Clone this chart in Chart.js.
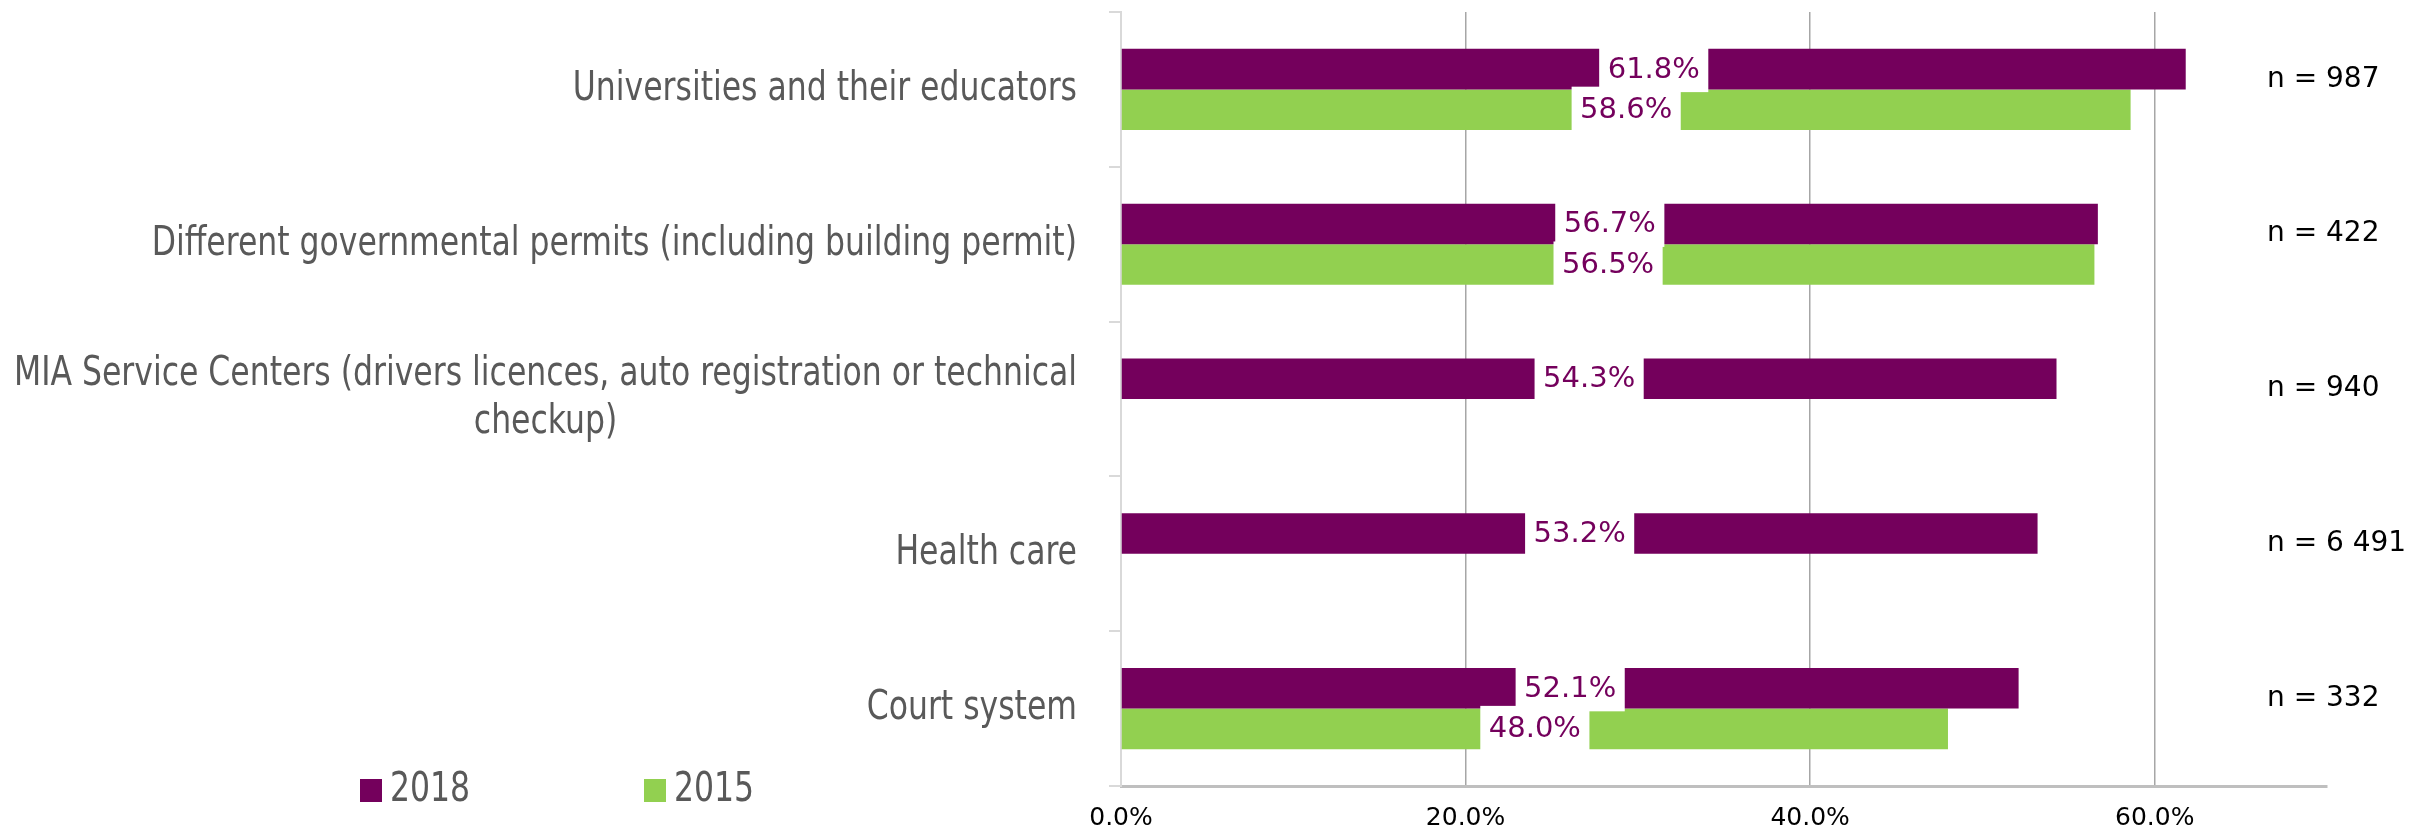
<!DOCTYPE html>
<html>
<head>
<meta charset="utf-8">
<script src="https://cdn.jsdelivr.net/npm/chart.js@4.4.0/dist/chart.umd.min.js"></script>
<style>
  html, body { margin: 0; padding: 0; background: #fff; }
  #wrap { width: 2433px; height: 836px; }
</style>
</head>
<body>
<div id="wrap"><canvas id="chart" width="2433" height="836"></canvas></div>
<script>
const categories = [
  'Universities and their educators',
  'Different governmental permits (including building permit)',
  ['MIA Service Centers (drivers licences, auto registration or technical', 'checkup)'],
  'Health care',
  'Court system'
];
const values2018 = [61.8, 56.7, 54.3, 53.2, 52.1];
const values2015 = [58.6, 56.5, null, null, 48.0];
const sampleSizes = ['n = 987', 'n = 422', 'n = 940', 'n = 6 491', 'n = 332'];
const seriesNames = ['2018', '2015'];

const PURPLE = '#74005c';
const GREEN = '#92d050';
const GREY_TEXT = '#595959';
const NARROW = '"DejaVu Sans Condensed", "DejaVu Sans", sans-serif';
const WIDE = '"DejaVu Sans", "Liberation Sans", sans-serif';
const SQUEEZE = 0.875; // no narrow font installed, so squeeze the condensed one a bit

function narrowText(ctx, txt, x, y) {
  ctx.save();
  ctx.translate(x, y);
  ctx.scale(SQUEEZE, 1);
  ctx.fillText(txt, 0, 0);
  ctx.restore();
}

// category names drawn by hand so the wrapped line can be centred under the first
const categoryLabels = {
  id: 'categoryLabels',
  afterDraw(chart) {
    const ctx = chart.ctx;
    const y = chart.scales.y;
    const right = y.right - 44;
    ctx.save();
    ctx.font = '40px ' + NARROW;
    ctx.fillStyle = GREY_TEXT;
    ctx.textAlign = 'center';
    ctx.textBaseline = 'middle';
    categories.forEach((label, i) => {
      const lines = Array.isArray(label) ? label : [label];
      const w = Math.max(...lines.map(l => ctx.measureText(l).width)) * SQUEEZE;
      const cy = y.getPixelForValue(i);
      const lh = 48;
      lines.forEach((l, k) => {
        narrowText(ctx, l, right - w / 2, cy + (k - (lines.length - 1) / 2) * lh);
      });
    });
    ctx.restore();
  }
};

// value labels on a white box in the middle of each bar
const valueLabels = {
  id: 'valueLabels',
  afterDatasetsDraw(chart) {
    const ctx = chart.ctx;
    ctx.save();
    ctx.font = '29px ' + WIDE;
    ctx.textAlign = 'center';
    ctx.textBaseline = 'middle';
    chart.data.datasets.forEach((ds, di) => {
      const meta = chart.getDatasetMeta(di);
      meta.data.forEach((bar, i) => {
        const v = ds.data[i];
        if (v === null || v === undefined) return;
        const txt = v.toFixed(1) + '%';
        const cx = (bar.x + bar.base) / 2;
        const w = ctx.measureText(txt).width + 17;
        ctx.fillStyle = '#fff';
        ctx.fillRect(cx - w / 2, bar.y - 23, w, 46);
        ctx.fillStyle = PURPLE;
        ctx.fillText(txt, cx, bar.y + 1);
      });
    });
    ctx.restore();
  }
};

// n = ... notes on the right and the legend bottom left
const extras = {
  id: 'extras',
  afterDraw(chart) {
    const ctx = chart.ctx;
    const y = chart.scales.y;
    ctx.save();
    ctx.font = '28px ' + WIDE;
    ctx.fillStyle = '#000';
    ctx.textAlign = 'left';
    ctx.textBaseline = 'middle';
    sampleSizes.forEach((s, i) => {
      ctx.fillText(s, chart.chartArea.right - 60, y.getPixelForValue(i) - 10);
    });

    ctx.font = '40px ' + NARROW;
    const legendX = [360, 644];
    chart.data.datasets.forEach((ds, i) => {
      ctx.fillStyle = ds.backgroundColor;
      ctx.fillRect(legendX[i], 779, 22, 23);
      ctx.fillStyle = GREY_TEXT;
      narrowText(ctx, ds.label, legendX[i] + 30, 791);
    });
    ctx.restore();
  }
};

new Chart(document.getElementById('chart'), {
  type: 'bar',
  data: {
    labels: categories,
    datasets: [
      { label: seriesNames[0], data: values2018, backgroundColor: PURPLE },
      { label: seriesNames[1], data: values2015, backgroundColor: GREEN }
    ]
  },
  options: {
    indexAxis: 'y',
    responsive: false,
    animation: false,
    devicePixelRatio: 1,
    layout: { padding: { left: 0, right: 106, top: 12, bottom: 0 } },
    datasets: { bar: { categoryPercentage: 0.524, barPercentage: 1 } },
    plugins: {
      legend: { display: false },
      tooltip: { enabled: false }
    },
    scales: {
      x: {
        min: 0,
        max: 70,
        ticks: {
          stepSize: 20,
          includeBounds: false,
          padding: 17,
          color: '#000',
          font: { family: WIDE, size: 25 },
          callback: (v) => v.toFixed(1) + '%'
        },
        grid: {
          drawTicks: false,
          color: (c) => (c.tick && c.tick.value === 0 ? 'rgba(0,0,0,0)' : '#a6a6a6'),
          lineWidth: 1.5
        },
        border: { color: '#bfbfbf', width: 3 },
        afterFit: (scale) => { scale.height = 50; }
      },
      y: {
        ticks: { display: false },
        grid: {
          drawOnChartArea: false,
          drawTicks: true,
          tickLength: 12,
          color: '#d9d9d9',
          lineWidth: 2
        },
        border: { color: '#d9d9d9', width: 2 },
        afterFit: (scale) => { scale.width = 1121; }
      }
    }
  },
  plugins: [categoryLabels, valueLabels, extras]
});
</script>
</body>
</html>
